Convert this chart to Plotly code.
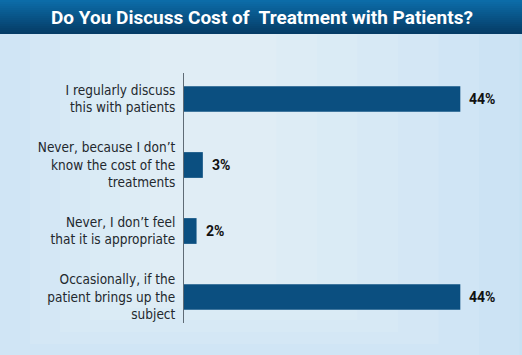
import plotly.graph_objects as go

# ---- data ----
categories = [
    "I regularly discuss<br>this with patients",
    "Never, because I don\u2019t<br>know the cost of the<br>treatments",
    "Never, I don\u2019t feel<br>that it is appropriate",
    "Occasionally, if the<br>patient brings up the<br>subject",
]
values = [44, 3, 2, 44]
value_labels = ["44%", "3%", "2%", "44%"]
title_text = "Do You Discuss Cost of  Treatment with Patients?"

# ---- geometry helpers (pixel -> paper) ----
W, H = 522, 355
ML, MR, MT, MB = 184, 24, 73, 32
PW, PH = W - ML - MR, H - MT - MB


def px(x):
    return (x - ML) / PW


def py(y):
    return (H - MB - y) / PH


COND = "DejaVu Sans Condensed, DejaVu Sans, sans-serif"

fig = go.Figure()
fig.add_trace(go.Bar(
    x=values, y=categories, orientation="h",
    width=0.39,
    marker=dict(color="#0b4f80", line=dict(width=0)),
    hoverinfo="skip",
))

shapes = []
# background gradient (lighter toward centre / top)
for i in range(8):
    inset = i * 30
    shapes.append(dict(type="rect", xref="paper", yref="paper", layer="below",
                       x0=px(-60 + inset), x1=px(560 - inset * 1.35),
                       y0=py(380 - i * 12), y1=py(34),
                       fillcolor="rgba(255,255,255,0.09)", line=dict(width=0)))
# title bar gradient
top = (12, 108, 168)
bot = (5, 60, 102)
n = 17
for i in range(n):
    t = i / (n - 1)
    c = tuple(int(round(top[k] + (bot[k] - top[k]) * t)) for k in range(3))
    shapes.append(dict(type="rect", xref="paper", yref="paper",
                       x0=px(-2), x1=px(W + 2),
                       y0=py(2 * i + 2.05), y1=py(2 * i - (2 if i == 0 else 0)),
                       fillcolor="rgb(%d,%d,%d)" % c, line=dict(width=0)))

annotations = []
for cat, v, lab in zip(categories, values, value_labels):
    annotations.append(dict(
        text="<b>%s</b>" % lab, xref="x", yref="y", x=v, y=cat,
        xanchor="left", yanchor="middle", showarrow=False, xshift=7,
        font=dict(family="Roboto, Liberation Sans, sans-serif", size=14, color="#111111"),
    ))
# title as annotation centred on the full page width
annotations.append(dict(
    text="<b>%s</b>" % title_text, xref="paper", yref="paper",
    x=px(W / 2 + 1), y=py(17.5), xanchor="center", yanchor="middle",
    showarrow=False,
    font=dict(family="Roboto, Liberation Sans, sans-serif", size=19, color="white"),
))

fig.update_layout(
    width=W, height=H,
    margin=dict(l=ML, r=MR, t=MT, b=MB),
    paper_bgcolor="#c2def2",
    plot_bgcolor="rgba(0,0,0,0)",
    showlegend=False,
    xaxis=dict(range=[0, 50], visible=False, fixedrange=True),
    yaxis=dict(range=[3.394, -0.394], showticklabels=True, ticks="",
               ticklabelstandoff=5,
               tickfont=dict(family=COND, size=13.5, color="#23282d"),
               showgrid=False, zeroline=False, showline=True,
               linecolor="#5f6b75", linewidth=1, fixedrange=True),
    shapes=shapes,
    annotations=annotations,
)

fig.write_html("out.html", config={"displayModeBar": False},
               post_script="document.body.style.margin='0';document.body.style.padding='0';")
